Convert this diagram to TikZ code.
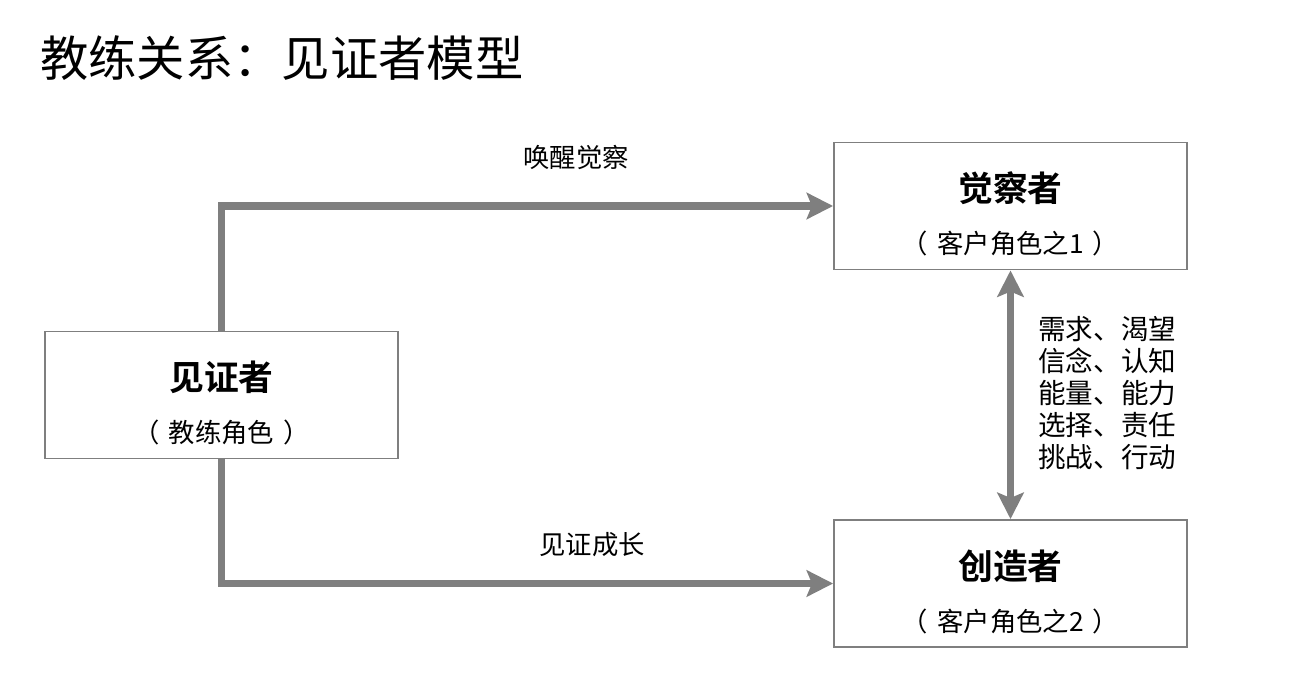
\documentclass[tikz,border=0pt]{standalone}
\usepackage{fontspec}
\setmainfont{Noto Sans CJK SC}[BoldFont={Noto Sans CJK SC Bold}]
\usetikzlibrary{arrows.meta,positioning}
\definecolor{linegray}{HTML}{7F7F7F}
\newcommand{\pgap}{\hspace{0.35em}}
\begin{document}
\begin{tikzpicture}[x=0.02cm, y=-0.02cm,
    rolebox/.style={draw=linegray, line width=1.1pt, minimum width=7.06cm, minimum height=2.54cm, inner sep=0pt},
    roletitle/.style={font=\fontsize{19.8}{23}\selectfont\bfseries, inner sep=0pt},
    rolesub/.style={font=\fontsize{15}{18}\selectfont, inner sep=0pt},
    flow/.style={draw=linegray, line width=4.5pt, -{Stealth[length=15pt, width=15pt, inset=3pt]}},
    flowboth/.style={draw=linegray, line width=4.5pt, {Stealth[length=15pt, width=15pt, inset=3pt]}-{Stealth[length=15pt, width=15pt, inset=3pt]}},
    flowlabel/.style={font=\fontsize{15}{18}\selectfont, inner sep=0pt}]
    \useasboundingbox (0,0) rectangle (1316,686);
    \node[anchor=west, inner sep=0pt, font=\fontsize{27.5}{33}\selectfont] (title) at (40,58) {教练关系：见证者模型};

    \node[rolebox] (witness) at (221.5,395) {};
    \node[rolebox] (aware) at (1010.5,206) {};
    \node[rolebox] (creator) at (1010.5,583.5) {};

    \node[roletitle] (witnesstitle) at ([yshift=-0.94cm]witness.north) {见证者};
    \node[rolesub] (witnesssub) at ([yshift=-2.04cm]witness.north) {（\pgap 教练角色\pgap ）};
    \node[roletitle] (awaretitle) at ([yshift=-0.94cm]aware.north) {觉察者};
    \node[rolesub] (awaresub) at ([yshift=-2.04cm]aware.north) {（\pgap 客户角色之1\pgap ）};
    \node[roletitle] (creatortitle) at ([yshift=-0.94cm]creator.north) {创造者};
    \node[rolesub] (creatorsub) at ([yshift=-2.04cm]creator.north) {（\pgap 客户角色之2\pgap ）};

    \draw[flow] (witness.north) |- (aware.west);
    \draw[flow] (witness.south) |- (creator.west);
    \draw[flowboth] (aware.south) -- (creator.north);

    \node[flowlabel] (wake) at (576,157) {唤醒觉察};
    \node[flowlabel] (grow) at (592,545) {见证成长};
    \node[flowlabel, anchor=west, align=left, font=\fontsize{15.7}{18.2}\selectfont] (needs) at (1038,393)
        {需求、渴望\\信念、认知\\能量、能力\\选择、责任\\挑战、行动};
\end{tikzpicture}
\end{document}
